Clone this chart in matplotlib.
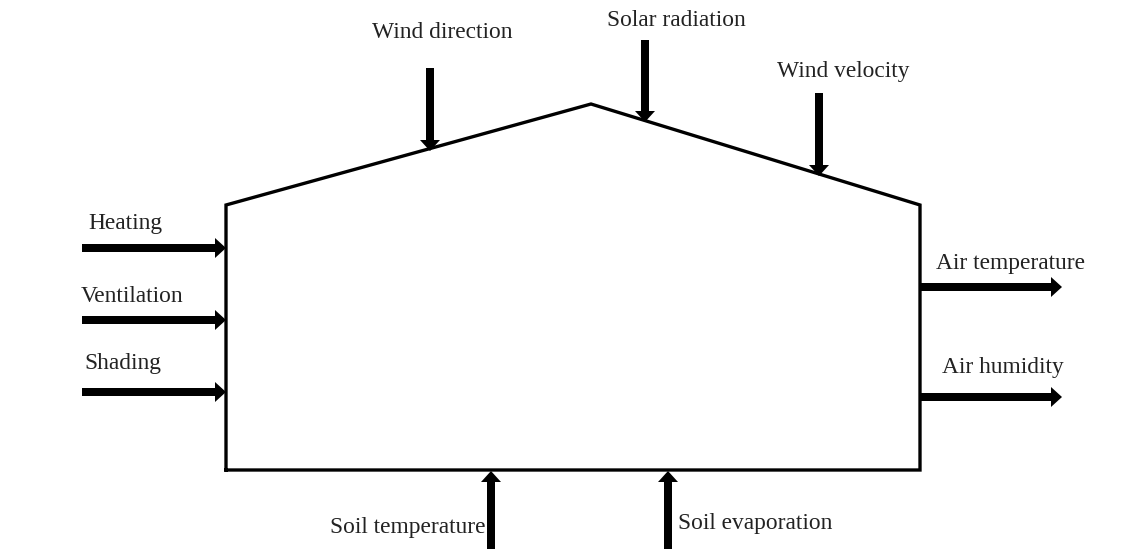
import matplotlib.pyplot as plt
from matplotlib.patches import FancyArrow

# greenhouse outline (pixel coords, y downward)
house_x = [226, 226, 591, 920, 920, 226]
house_y = [470, 205, 104, 205, 470, 470]

# input / output arrows: label, tail (x, y), head (x, y)
arrow_labels = ["Heating", "Ventilation", "Shading",
                "Air temperature", "Air humidity",
                "Wind direction", "Solar radiation", "Wind velocity",
                "Soil temperature", "Soil evaporation"]
arrow_tail = [(82, 248), (82, 320), (82, 392),
              (920, 287), (920, 397),
              (430, 68), (645, 40), (819, 93),
              (491, 549), (668, 549)]
arrow_head = [(226, 248), (226, 320), (226, 392),
              (1062, 287), (1062, 397),
              (430, 151), (645, 122), (819, 176),
              (491, 471), (668, 471)]
label_pos = [(125, 224), (132, 296), (123, 364),
             (1011, 263), (1003, 368),
             (442, 32), (676, 20), (843, 71),
             (486, 528), (678, 524)]
label_ha = ["center", "center", "center", "center", "center",
            "center", "center", "center", "right", "left"]

fig = plt.figure(figsize=(11.4, 5.49), dpi=100)
ax = fig.add_axes([0, 0, 1, 1])
ax.set_xlim(0, 1140)
ax.set_ylim(549, 0)
ax.axis("off")

ax.plot(house_x, house_y, color="black", lw=2.4, solid_joinstyle="miter")

for lab, (x0, y0), (x1, y1), (tx, ty), ha in zip(arrow_labels, arrow_tail, arrow_head, label_pos, label_ha):
    ax.add_patch(FancyArrow(x0, y0, x1 - x0, y1 - y0, width=8, head_width=20,
                            head_length=11, length_includes_head=True,
                            color="black", lw=0))
    ax.text(tx, ty, lab, ha=ha, va="center", fontsize=16.8,
            family="Liberation Serif", color="#222222")

fig.savefig("out.png", dpi=100)
